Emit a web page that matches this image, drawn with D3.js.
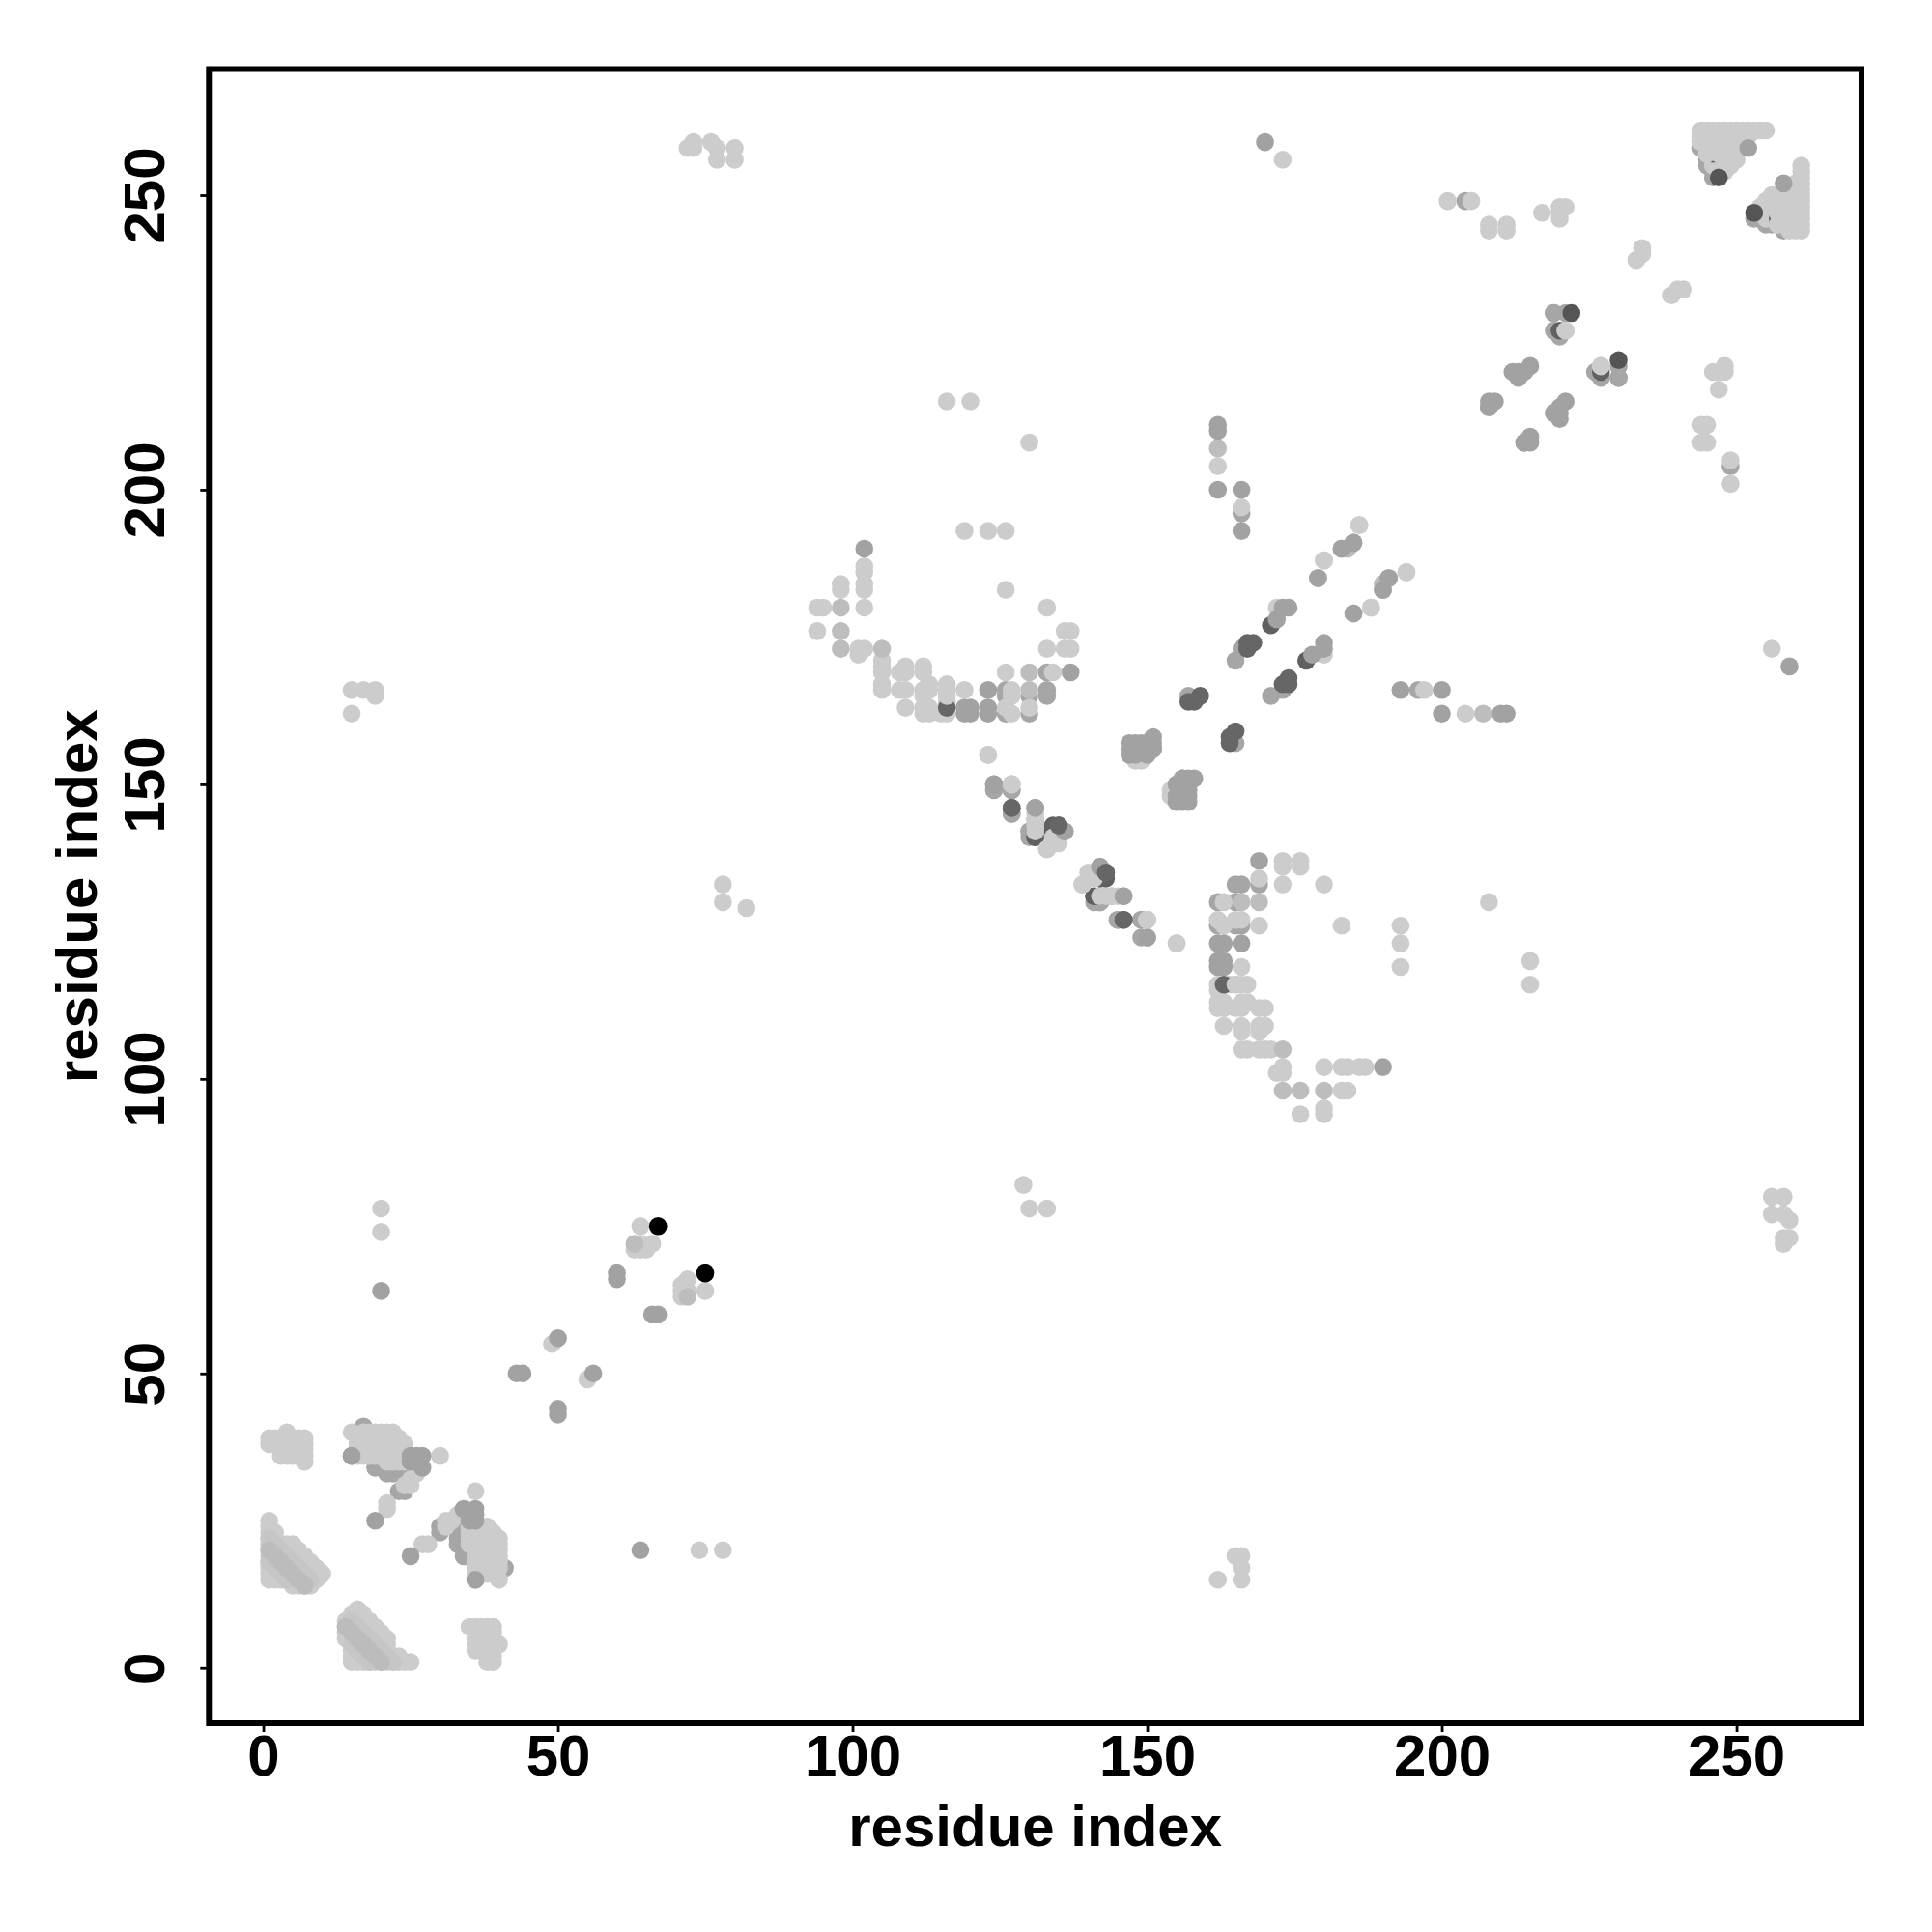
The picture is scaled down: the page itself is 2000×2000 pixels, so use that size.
<!DOCTYPE html>
<html>
<head>
<meta charset="utf-8">
<script src="https://cdn.jsdelivr.net/npm/d3@7/dist/d3.min.js"></script>
<style>html,body{margin:0;padding:0;background:#fff}</style>
</head>
<body>
<svg id="chart" width="2000" height="2000"></svg>
<script>
const tickValues = [0, 50, 100, 150, 200, 250];
const axisTitle = "residue index";

// residue pairs (i < j); each pair is also drawn mirrored as (j, i)
const underMid = [[124,149],[124,150],[127,149],[127,145],[131,143],[130,142],[145,127],[149,127],[141,130],[142,130],[144,131],
[133,169],[130,165],[130,162],[126,165],[126,166],[126,162],[157,165],[166,173],[165,171],[166,196],[204,249],
[20,34],[21,34],[22,34],[23,34],[24,34],[21,33],[22,33],[23,33],[24,33],[19,34],[20,35],[15,36],[17,41],[23,30],[24,30],
[244,258],[245,256],[245,255],[246,254],[246,253],[219,227],[220,226],[219,230],[221,230],[230,219],[133,165],[133,166],[190,183]];
const underDark = [[131,141],[142,135],[134,142],[141,131],[142,131],[171,177],[220,227],[134,143],[135,143]];
const lightBase = [
[1,15],[1,16],[1,17],[1,18],[1,19],[1,20],[1,21],[1,22],[1,23],[1,24],[1,25],
[2,15],[2,16],[2,17],[2,18],[2,19],[2,20],[2,21],[2,22],[2,23],
[3,15],[3,16],[3,17],[3,18],[3,19],[3,20],[3,21],
[4,15],[4,16],[4,17],[4,18],[4,19],[4,20],[4,21],
[5,14],[5,15],[5,16],[5,17],[5,18],[5,19],[5,20],[5,21],
[6,14],[6,15],[6,16],[6,17],[6,18],[6,19],[6,20],
[7,14],[7,15],[7,16],[7,17],[7,18],[7,19],
[8,14],[8,15],[8,16],[8,17],[8,18],[9,15],[9,16],[9,17],[10,16],
[1,38],[1,39],[2,38],[2,39],[3,36],[3,37],[3,38],[3,39],[4,36],[4,37],[4,38],[4,39],[4,40],
[5,36],[5,37],[5,38],[5,39],[6,36],[6,37],[6,38],[6,39],[7,35],[7,36],[7,37],[7,38],[7,39],
[15,40],[16,36],[16,37],[16,38],[16,39],[17,36],[17,37],[17,38],[17,39],[17,40],
[18,36],[18,37],[18,38],[18,39],[18,40],[19,36],[19,37],[19,38],[19,39],[19,40],
[20,36],[20,37],[20,38],[20,39],[20,40],[21,35],[21,36],[21,37],[21,38],[21,39],[21,40],
[22,35],[22,36],[22,37],[22,38],[22,39],[22,40],[23,35],[23,36],[23,37],[23,38],[23,39],[24,35],[24,36],[24,37],[24,38],
[30,36],[21,27],[21,28],[24,31],[25,31],[25,32],[26,33],[20,74],[20,78],[49,55],
[63,71],[64,71],[64,72],[65,71],[66,72],[64,75],
[15,162],[15,166],[17,166],[19,165],[19,166],[78,130],[78,133],[82,129],
[72,258],[73,258],[73,259],[76,259],[77,258],[77,256],[80,258],[80,256],
[94,176],[94,180],[95,180],[98,183],[98,184],[101,172],[101,173],[102,173],[102,180],[102,183],[102,184],[102,186],[102,187],
[105,166],[105,167],[105,170],[105,171],[108,166],[108,169],[109,163],[109,166],[109,169],[109,170],[105,169],
[112,162],[112,163],[112,165],[112,166],[112,169],[112,170],[113,162],[113,163],[113,166],[113,167],
[115,162],[116,162],[116,164],[116,165],[116,166],[116,167],[119,166],[119,193],[123,155],[123,193],[126,169],[126,183],[126,193],
[126,163],[127,150],[127,162],[127,165],[127,166],[130,163],[133,173],[133,180],[136,173],[136,176],[137,173],[137,176],
[131,144],[131,142],[133,139],[134,141],[135,141],[139,133],[140,134],[140,135],[143,131],[145,131],[150,127],[155,123],
[116,215],[120,215],[130,208],[173,256],[162,204],[166,197],
[148,154],[149,154],[149,155],[172,180],[180,188],[186,194],[188,180],[194,186],
[201,249],[205,249],[208,244],[208,245],[211,244],[211,245],[217,247],[220,246],[220,247],[220,248],[221,248],
[233,239],[234,240],[234,241],[221,227],
[244,259],[244,260],[244,261],[245,257],[245,258],[245,259],[245,260],[245,261],
[246,255],[246,256],[246,258],[246,259],[246,260],[246,261],[247,254],[247,255],[247,256],[247,257],[247,258],[247,260],[247,261],
[248,254],[248,255],[248,256],[248,257],[248,258],[248,259],[248,260],[248,261],[249,255],[249,256],[249,257],[249,258],[249,259],[249,260],[249,261],
[250,256],[250,257],[250,258],[250,259],[250,260],[250,261],[251,258],[251,259],[251,260],[251,261],
[252,260],[252,261],[253,261],[254,261],[255,261]];
const softGray = [[105,173],[98,173],[98,176],[98,180],[130,166],[130,169],[184,190],[190,184],[63,72],[162,207]];
const stripeHalo = [[1,22],[2,21],[3,20],[4,19],[5,18],[6,17],[7,16],[8,15],[1,18],[2,17],[3,16],[4,15]];
const stripeGray = [[1,20],[2,19],[3,18],[4,17],[5,16],[6,15],[7,14]];
const midTop = [[20,64],[19,25],[15,36],[25,35],[25,36],[26,35],[26,36],[27,34],[27,36],
[43,50],[44,50],[50,56],[60,66],[60,67],
[102,190],[119,162],[119,163],[120,162],[120,163],[123,162],[123,163],[123,166],[137,169],
[131,146],[136,142],[142,136],[146,131],[124,150],[162,200],[162,210],[162,211],[166,193],[166,200],
[147,155],[147,156],[147,157],[148,155],[148,156],[148,157],[149,156],[149,157],[150,155],[150,157],[151,156],[151,157],[151,158],
[156,151],[172,178],[173,180],[174,180],[179,185],[183,190],[185,191],[185,179],[191,185],[170,259],[208,214],[208,215],[209,215],
[212,220],[213,219],[213,220],[214,220],[215,221],[208,214],[252,258]];
const darkTop = [[127,146],[143,135],[146,127],[157,164],[158,164],[159,165],[167,173],[167,174],[168,174],[246,257],[247,259],[116,163]];
const darkestTop = [[222,230],[247,253]];
const lightTop = [[245,257],[247,257],[246,258],[246,259],[248,259],[247,260],[134,169],[127,150],[221,227],[116,165]];
const blackTop = [[67,75]];

const seriesOrder = [
  [underMid, "#a6a6a6"], [underDark, "#606060"], [lightBase, "#cccccc"],
  [softGray, "#bdbdbd"], [stripeHalo, "#c6c6c6"], [stripeGray, "#bcbcbc"], [midTop, "#a2a2a2"],
  [darkTop, "#666666"], [darkestTop, "#555555"], [lightTop, "#cccccc"], [blackTop, "#000000"]
];

const frame = {left: 216.3, right: 1927, top: 71.5, bottom: 1784};
const x = d3.scaleLinear().domain([-9.22, 271.22]).range([frame.left, frame.right]);
const y = d3.scaleLinear().domain([-9.39, 271.4]).range([frame.bottom, frame.top]);
const svg = d3.select("#chart");
const font = "'Liberation Sans', Arial, Helvetica, sans-serif";

const plot = svg.append("g");
seriesOrder.forEach(([pairs, colour]) => {
  const both = pairs.flatMap(([i, j]) => [[i, j], [j, i]]);
  plot.append("g").selectAll("circle").data(both).join("circle")
    .attr("cx", d => x(d[0])).attr("cy", d => y(d[1])).attr("r", 9.3).attr("fill", colour);
});

const xAxis = svg.append("g").attr("transform", `translate(0,${frame.bottom})`)
  .call(d3.axisBottom(x).tickValues(tickValues).tickFormat(d3.format("d")).tickSize(9).tickSizeOuter(0));
const yAxis = svg.append("g").attr("transform", `translate(${frame.left},0)`)
  .call(d3.axisLeft(y).tickValues(tickValues).tickFormat(d3.format("d")).tickSize(9).tickSizeOuter(0));
[xAxis, yAxis].forEach(a => {
  a.select(".domain").remove();
  a.selectAll("line").attr("stroke", "#000").attr("stroke-width", 2.8);
  a.selectAll("text").attr("font-family", font).attr("font-weight", "bold").attr("font-size", 60).attr("fill", "#000");
});
xAxis.selectAll("text").attr("y", 54).attr("dy", 0).attr("text-anchor", "middle");
yAxis.selectAll("text").attr("transform", "rotate(-90)").attr("x", 0).attr("y", -46.5).attr("dy", 0).attr("text-anchor", "middle");

svg.append("rect").attr("x", frame.left).attr("y", frame.top)
  .attr("width", frame.right - frame.left).attr("height", frame.bottom - frame.top)
  .attr("fill", "none").attr("stroke", "#000").attr("stroke-width", 6);

svg.append("text").attr("x", (frame.left + frame.right) / 2).attr("y", 1911)
  .attr("text-anchor", "middle").attr("font-family", font).attr("font-weight", "bold").attr("font-size", 60).text(axisTitle);
svg.append("text").attr("transform", `translate(100,${(frame.top + frame.bottom) / 2}) rotate(-90)`)
  .attr("text-anchor", "middle").attr("font-family", font).attr("font-weight", "bold").attr("font-size", 60).text(axisTitle);
</script>
</body>
</html>
